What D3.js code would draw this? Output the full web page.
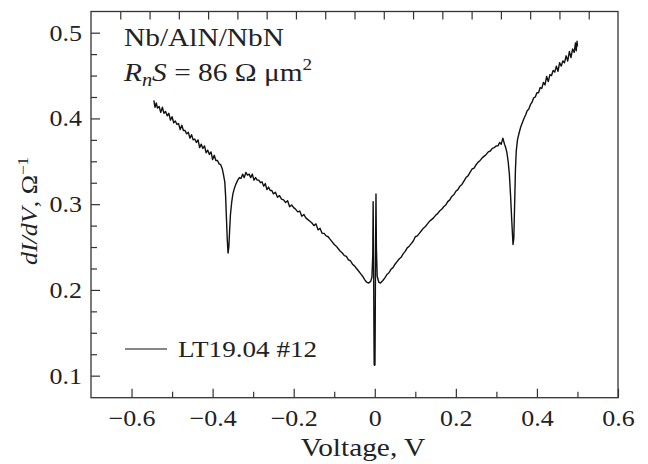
<!DOCTYPE html>
<html>
<head>
<meta charset="utf-8">
<script src="https://cdn.jsdelivr.net/npm/d3@7"></script>
<style>
    body { margin: 0; background: #fff; }
    svg text { font-family: "Liberation Serif", "Times New Roman", serif; fill: #222; }
</style>
</head>
<body>
<div id="chart"></div>
<script>
// values (V, dI/dV)
const voltage = [
    -0.545, -0.542, -0.539, -0.536, -0.532, -0.528, -0.524, -0.520, -0.516, -0.512, -0.508, -0.504,
    -0.500, -0.496, -0.492, -0.488, -0.484, -0.480, -0.476, -0.472, -0.468, -0.464, -0.460, -0.456,
    -0.452, -0.448, -0.444, -0.440, -0.436, -0.432, -0.428, -0.424, -0.420, -0.416, -0.412, -0.408,
    -0.404, -0.400, -0.396, -0.392, -0.388, -0.384, -0.380, -0.376, -0.373, -0.370, -0.368, -0.366,
    -0.364, -0.362, -0.360, -0.358, -0.356, -0.353, -0.350, -0.346, -0.342, -0.338, -0.334, -0.330,
    -0.326, -0.322, -0.318, -0.314, -0.310, -0.306, -0.302, -0.298, -0.294, -0.290, -0.286, -0.282,
    -0.278, -0.274, -0.270, -0.266, -0.262, -0.258, -0.254, -0.250, -0.245, -0.240, -0.235, -0.230,
    -0.225, -0.220, -0.215, -0.210, -0.205, -0.200, -0.195, -0.190, -0.185, -0.180, -0.175, -0.170,
    -0.165, -0.160, -0.155, -0.150, -0.145, -0.140, -0.135, -0.130, -0.125, -0.120, -0.115, -0.110,
    -0.105, -0.100, -0.095, -0.090, -0.085, -0.080, -0.075, -0.070, -0.065, -0.060, -0.055, -0.050,
    -0.045, -0.040, -0.035, -0.030, -0.025, -0.020, -0.015, -0.010, -0.007, -0.005, -0.004, -0.003,
    -0.002, -0.0015, -0.0005, 0.0005, 0.001, 0.002, 0.003, 0.004, 0.006, 0.010, 0.014,
    0.020, 0.025, 0.030, 0.035, 0.040, 0.045, 0.050, 0.055, 0.060, 0.065, 0.070, 0.075,
    0.080, 0.085, 0.090, 0.095, 0.100, 0.105, 0.110, 0.115, 0.120, 0.125, 0.130, 0.135,
    0.140, 0.145, 0.150, 0.155, 0.160, 0.165, 0.170, 0.175, 0.180, 0.185, 0.190, 0.195,
    0.200, 0.205, 0.210, 0.215, 0.220, 0.225, 0.230, 0.235, 0.240, 0.245, 0.250, 0.255,
    0.260, 0.265, 0.270, 0.275, 0.280, 0.285, 0.290, 0.295, 0.300, 0.304, 0.308, 0.312,
    0.316, 0.320, 0.323, 0.326, 0.329, 0.332, 0.335, 0.338, 0.341, 0.343, 0.345, 0.347,
    0.349, 0.352, 0.356, 0.360, 0.364, 0.368, 0.372, 0.376, 0.380, 0.384, 0.388, 0.392,
    0.396, 0.400, 0.404, 0.408, 0.412, 0.416, 0.420, 0.424, 0.428, 0.432, 0.436, 0.440,
    0.444, 0.448, 0.452, 0.456, 0.460, 0.464, 0.468, 0.472, 0.476, 0.480, 0.484, 0.488,
    0.492, 0.495, 0.497, 0.499, 0.500
];
const conductance = [
    0.421, 0.413, 0.418, 0.412, 0.414, 0.407, 0.413, 0.406, 0.408, 0.403, 0.406, 0.398,
    0.402, 0.395, 0.397, 0.393, 0.394, 0.387, 0.392, 0.386, 0.386, 0.382, 0.384, 0.377,
    0.381, 0.375, 0.376, 0.372, 0.375, 0.366, 0.370, 0.365, 0.368, 0.360, 0.363, 0.358,
    0.361, 0.352, 0.357, 0.351, 0.351, 0.347, 0.346, 0.341, 0.334, 0.326, 0.310, 0.285,
    0.260, 0.243, 0.250, 0.270, 0.288, 0.302, 0.312, 0.319, 0.324, 0.328, 0.331, 0.330,
    0.335, 0.331, 0.337, 0.334, 0.335, 0.331, 0.335, 0.328, 0.331, 0.328, 0.328, 0.325,
    0.326, 0.321, 0.324, 0.317, 0.320, 0.316, 0.316, 0.312, 0.314, 0.308, 0.310, 0.306,
    0.305, 0.302, 0.304, 0.297, 0.299, 0.296, 0.294, 0.291, 0.292, 0.286, 0.288, 0.284,
    0.282, 0.280, 0.278, 0.275, 0.277, 0.270, 0.272, 0.266, 0.266, 0.263, 0.262, 0.259,
    0.256, 0.253, 0.251, 0.248, 0.245, 0.243, 0.240, 0.239, 0.235, 0.234, 0.230, 0.228,
    0.225, 0.222, 0.219, 0.216, 0.212, 0.209, 0.208, 0.210, 0.215, 0.240, 0.303, 0.240,
    0.150, 0.113, 0.112, 0.113, 0.150, 0.250, 0.312, 0.250, 0.216, 0.209, 0.208,
    0.211, 0.214, 0.218, 0.220, 0.224, 0.226, 0.230, 0.233, 0.236, 0.238, 0.242, 0.245,
    0.249, 0.251, 0.254, 0.257, 0.262, 0.263, 0.266, 0.269, 0.272, 0.274, 0.277, 0.280,
    0.282, 0.284, 0.287, 0.289, 0.292, 0.294, 0.297, 0.299, 0.303, 0.305, 0.309, 0.311,
    0.315, 0.317, 0.321, 0.323, 0.327, 0.331, 0.333, 0.337, 0.341, 0.342, 0.346, 0.349,
    0.351, 0.354, 0.356, 0.358, 0.361, 0.362, 0.365, 0.366, 0.368, 0.368, 0.372, 0.370,
    0.377, 0.370, 0.366, 0.360, 0.350, 0.335, 0.310, 0.280, 0.253, 0.260, 0.300, 0.340,
    0.362, 0.375, 0.383, 0.390, 0.395, 0.400, 0.404, 0.409, 0.411, 0.416, 0.419, 0.424,
    0.425, 0.430, 0.430, 0.436, 0.435, 0.442, 0.439, 0.449, 0.443, 0.451, 0.450, 0.456,
    0.454, 0.461, 0.455, 0.465, 0.461, 0.467, 0.465, 0.473, 0.467, 0.478, 0.471, 0.481,
    0.477, 0.488, 0.479, 0.490, 0.484
];

const xMajor = [-0.6, -0.4, -0.2, 0, 0.2, 0.4, 0.6];
const xMinor = [-0.5, -0.3, -0.1, 0.1, 0.3, 0.5];
const yMajor = [0.1, 0.2, 0.3, 0.4, 0.5];
const yMinor = [0.125, 0.15, 0.175, 0.225, 0.25, 0.275, 0.325, 0.35, 0.375, 0.425, 0.45, 0.475];
const legendLabel = "LT19.04 #12";

const W = 648, H = 464;
const margin = { top: 11.5, right: 30, bottom: 66.3, left: 91 };
const width = W - margin.left - margin.right,
    height = H - margin.top - margin.bottom;
const sx = 1.13; // the printed type is a bit wider than Liberation Serif

const x = d3.scaleLinear().domain([-0.7, 0.6]).range([0, width]);
const y = d3.scaleLinear().domain([0.0743, 0.5247]).range([height, 0]);

// top edge has evenly spaced ticks (18 intervals) with no labels
const xTop = d3.range(1, 18).map(i => -0.7 + i * 1.3 / 18);

const svg = d3.select("#chart")
    .append("svg")
    .attr("width", W)
    .attr("height", H);

const g = svg.append("g")
    .attr("transform", `translate(${margin.left}, ${margin.top})`);

const fmt = d => d === 0 ? "0" : d3.format(".1f")(d);

// widen a text horizontally around its own x
function stretch(sel) {
    sel.each(function () {
        const t = d3.select(this);
        const x0 = +(t.attr("x") || 0);
        t.attr("x", x0 / sx).attr("transform", `scale(${sx},1)`);
    });
}

function styleAxis(sel) {
    sel.attr("font-family", null);
    sel.select(".domain").remove();
    sel.selectAll(".tick line").attr("stroke", "#333").attr("stroke-width", 1.2);
    sel.selectAll(".tick text").style("font-size", "23px").attr("fill", "#222").call(stretch);
}

g.append("g")
    .attr("transform", `translate(0, ${height})`)
    .call(d3.axisBottom(x).tickValues(xMajor).tickSize(-9).tickPadding(12).tickFormat(fmt))
    .call(styleAxis);
g.append("g")
    .attr("transform", `translate(0, ${height})`)
    .call(d3.axisBottom(x).tickValues(xMinor).tickSize(-6).tickFormat(""))
    .call(styleAxis);
g.append("g")
    .call(d3.axisTop(x).tickValues(xTop).tickSize(-8).tickFormat(""))
    .call(styleAxis);

g.append("g")
    .call(d3.axisLeft(y).tickValues(yMajor).tickSize(-9).tickPadding(9).tickFormat(d3.format(".1f")))
    .call(styleAxis);
g.append("g")
    .call(d3.axisLeft(y).tickValues(yMinor).tickSize(-6).tickFormat(""))
    .call(styleAxis);

// frame
g.append("rect")
    .attr("width", width)
    .attr("height", height)
    .attr("fill", "none")
    .attr("stroke", "#333")
    .attr("stroke-width", 1.3);

// curve
const pts = voltage.map((v, i) => [v, conductance[i]]);
const line = d3.line()
    .x(d => x(d[0]))
    .y(d => y(d[1]));

g.append("path")
    .datum(pts)
    .attr("d", line)
    .attr("fill", "none")
    .attr("stroke", "#111")
    .attr("stroke-width", 1.4)
    .attr("stroke-linejoin", "round");

// legend
g.append("line")
    .attr("x1", 125 - margin.left).attr("x2", 167 - margin.left)
    .attr("y1", 349 - margin.top).attr("y2", 349 - margin.top)
    .attr("stroke", "#111").attr("stroke-width", 1.2);
g.append("text")
    .attr("x", 178 - margin.left)
    .attr("y", 357 - margin.top)
    .style("font-size", "24px")
    .text(legendLabel)
    .call(stretch);

// sample annotation
g.append("text")
    .attr("x", 124 - margin.left)
    .attr("y", 46 - margin.top)
    .style("font-size", "26px")
    .text("Nb/AlN/NbN")
    .call(stretch);

const ann = g.append("text")
    .attr("x", 124 - margin.left)
    .attr("y", 81 - margin.top)
    .style("font-size", "26px");
ann.append("tspan").style("font-style", "italic").text("R");
ann.append("tspan").style("font-style", "italic").style("font-size", "18px").attr("dy", 5).text("n");
ann.append("tspan").style("font-style", "italic").attr("dy", -5).text("S");
ann.append("tspan").text(" = 86 Ω μm");
ann.append("tspan").style("font-size", "17px").attr("dy", -11).text("2");
ann.call(stretch);

// axis titles
svg.append("text")
    .attr("x", 363)
    .attr("y", 456)
    .attr("text-anchor", "middle")
    .style("font-size", "26px")
    .text("Voltage, V")
    .call(stretch);

const yt = svg.append("text")
    .attr("transform", `translate(37, 211) rotate(-90) scale(${sx},1)`)
    .attr("text-anchor", "middle")
    .style("font-size", "23px");
yt.append("tspan").style("font-style", "italic").text("dI/dV");
yt.append("tspan").text(", Ω");
yt.append("tspan").style("font-size", "15px").attr("dy", -9).text("−1");
</script>
</body>
</html>
